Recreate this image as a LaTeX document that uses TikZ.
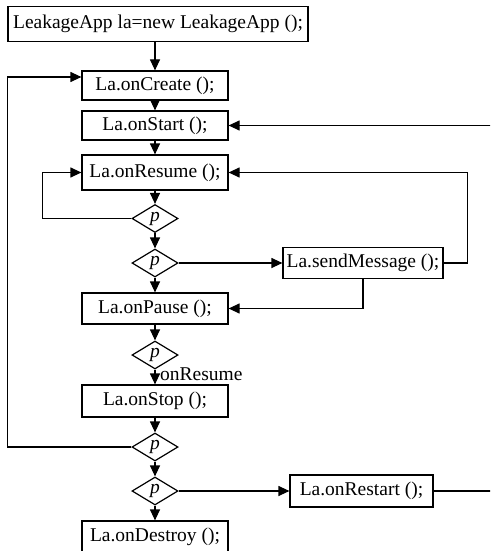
\documentclass[tikz,border=0pt]{standalone}
\usepackage{fontspec}
\setmainfont{Liberation Serif}
\usetikzlibrary{shapes.geometric,arrows.meta}
\begin{document}
\begin{tikzpicture}[x=1pt,y=-1pt,
  box/.style={draw,line width=1.2pt,minimum width=146pt,minimum height=31pt,inner sep=0pt,font=\fontsize{19.5}{22}\selectfont},
  dia/.style={draw,diamond,line width=1.2pt,aspect=1.64,minimum width=46pt,minimum height=28pt,inner sep=0pt,font=\fontsize{19.5}{22}\selectfont\itshape},
  lbl/.style={inner sep=0pt,font=\fontsize{19.5}{22}\selectfont},
  arr/.style={line width=1.2pt,-{Triangle[length=11pt,width=10pt]}},
  ln/.style={line width=1.2pt}]
\useasboundingbox (0,0) rectangle (490,551);
\clip (0,0) rectangle (490,551);
\node[box,minimum width=300pt,minimum height=35pt] (top) at (158,24) {LeakageApp la=new LeakageApp ();};
\node[box,minimum height=29pt] (create) at (155,85.5) {La.onCreate ();};
\node[box,minimum height=29pt] (start) at (155,125.5) {La.onStart ();};
\node[box,minimum height=35pt] (resume) at (155,172.5) {La.onResume ();};
\node[dia] (d1) at (155,218.5) {p};
\node[dia] (d2) at (155,263) {p};
\node[box,minimum width=160pt] (send) at (363,263) {La.sendMessage ();};
\node[box] (pause) at (155,308.5) {La.onPause ();};
\node[dia] (d3) at (155,355) {p};
\node[box,minimum height=32pt] (stop) at (155,401) {La.onStop ();};
\node[dia] (d4) at (155,447) {p};
\node[dia] (d5) at (155,491) {p};
\node[box,minimum width=143pt,minimum height=32pt] (restart) at (361.5,491) {La.onRestart ();};
\node[box,minimum height=32pt] (destroy) at (155,537) {La.onDestroy ();};
\node[lbl,anchor=base west] (lres) at (160,380) {onResume};

\draw[arr] (top.south -| create.north) -- (create.north);
\draw[arr] (create) -- (start);
\draw[arr] (start) -- (resume);
\draw[arr] (resume) -- (d1);
\draw[arr] (d1) -- (d2);
\draw[arr] (d2) -- (pause);
\draw[arr] (pause) -- (d3);
\draw[arr] (d3) -- (stop);
\draw[arr] (stop) -- (d4);
\draw[arr] (d4) -- (d5);
\draw[arr] (d5) -- (destroy);
\draw[arr] (d2.east) -- (send.west);
\draw[arr] (d5.east) -- (restart.west);
\draw[arr] (d1.west) -- ++(-89,0) |- (resume.west);
\draw[arr] (send.east) -- ++(24,0) |- (resume.east);
\draw[arr] (send.south) |- (pause.east);
\draw[arr] (d4.west) -- ++(-124,0) |- ([yshift=8.5pt]create.west);
\draw[arr] (restart.east) -- ++(70,0) |- (start.east);
\end{tikzpicture}
\end{document}
